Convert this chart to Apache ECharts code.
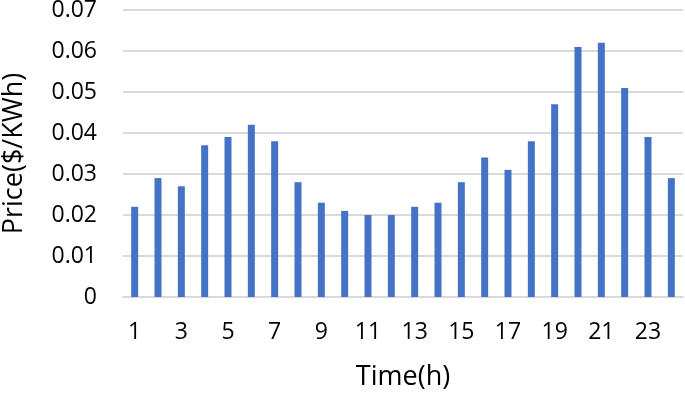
<!DOCTYPE html>
<html>
<head>
<meta charset="utf-8">
<script src="https://cdn.jsdelivr.net/npm/echarts@6/dist/echarts.min.js"></script>
<style>
    html, body { margin: 0; padding: 0; background: #fff; }
    #bar-chart { width: 685px; height: 393px; }
</style>
</head>
<body>
<div id="bar-chart"></div>
<script>
// 每小时电价
const hours = ['1', '2', '3', '4', '5', '6', '7', '8', '9', '10', '11', '12',
    '13', '14', '15', '16', '17', '18', '19', '20', '21', '22', '23', '24'];
const prices = [0.022, 0.029, 0.027, 0.037, 0.039, 0.042, 0.038, 0.028, 0.023, 0.021, 0.020, 0.020,
    0.022, 0.023, 0.028, 0.034, 0.031, 0.038, 0.047, 0.061, 0.062, 0.051, 0.039, 0.029];

const barChart = echarts.init(document.querySelector('#bar-chart'));
barChart.setOption({
    animation: false,
    color: '#4472c4',
    textStyle: {
        fontFamily: 'Open Sans',
    },
    grid: {
        left: 123,
        right: 2,
        top: 10,
        bottom: 96,
        outerBoundsMode: 'none',
    },
    xAxis: {
        type: 'category',
        data: hours,
        name: 'Time(h)',
        nameLocation: 'middle',
        nameGap: 67,
        nameTextStyle: {
            fontSize: 27,
            color: '#000',
        },
        axisLine: {
            lineStyle: {
                color: '#d9d9d9',
                width: 2,
            }
        },
        axisTick: {
            interval: 0,
            length: 9,
            lineStyle: {
                color: '#d9d9d9',
                width: 2,
            }
        },
        axisLabel: {
            interval: 1,
            fontSize: 23,
            color: '#000',
            margin: 24,
        },
    },
    yAxis: {
        type: 'value',
        min: 0,
        max: 0.07,
        interval: 0.01,
        name: 'Price($/KWh)',
        nameLocation: 'middle',
        nameGap: 95,
        nameTextStyle: {
            fontSize: 27,
            color: '#000',
        },
        axisLabel: {
            fontSize: 23,
            color: '#000',
            margin: 26,
            formatter: v => (v === 0 ? '0' : v.toFixed(2)),
        },
        splitLine: {
            lineStyle: {
                color: '#d9d9d9',
                width: 2,
            }
        },
    },
    series: [
        {
            type: 'bar',
            data: prices,
            barWidth: '30%',
        }
    ]
});
</script>
</body>
</html>
